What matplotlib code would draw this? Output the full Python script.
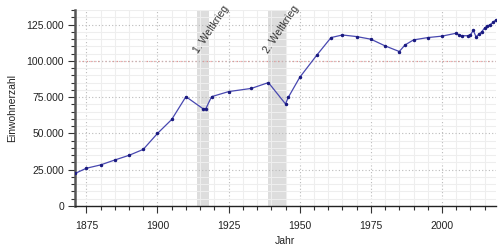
import numpy as np
import matplotlib
matplotlib.use('Agg')
import matplotlib.pyplot as plt
from matplotlib.ticker import MultipleLocator, FuncFormatter

# Data: population by year
years = [1871, 1875, 1880, 1885, 1890, 1895, 1900, 1905, 1910, 1916, 1917, 1919,
         1925, 1933, 1939, 1945, 1946, 1950, 1956, 1961, 1965, 1970, 1975, 1980,
         1985, 1987, 1990, 1995, 2000, 2005, 2006, 2007, 2009, 2010, 2011, 2012,
         2013, 2014, 2015, 2016, 2017, 2018, 2019]
population = [22400, 26000, 28300, 31700, 34900, 39000, 50000, 59600, 75300, 67000,
              67000, 75300, 78800, 81000, 85000, 70300, 74900, 88600, 103900, 116000,
              117800, 116700, 114900, 110300, 106400, 110900, 114400, 116000, 117000,
              119000, 117800, 117300, 117300, 117800, 121000, 116500, 118300, 120100,
              122600, 124000, 125000, 126500, 128300]

wars = [(1914, 1918, '1. Weltkrieg'), (1939, 1945, '2. Weltkrieg')]
war_label_pos = [(1914.2, 104500), (1938.9, 104500)]

plt.rcParams['font.family'] = ['Liberation Sans', 'DejaVu Sans']

fig = plt.figure(figsize=(5, 2.5), dpi=100)
ax = fig.add_axes([0.15, 0.176, 0.842, 0.784])

# war periods as grey bands
for (start, end, name), (lx, ly) in zip(wars, war_label_pos):
    ax.axvspan(start, end, color='#dddddd', lw=0, zorder=0)
    ax.text(lx, ly, name, rotation=56, rotation_mode='anchor', ha='left',
            va='baseline', fontsize=7.5, color='#333333', clip_on=False)

# grid
ax.xaxis.set_major_locator(MultipleLocator(25))
ax.xaxis.set_minor_locator(MultipleLocator(5))
ax.yaxis.set_major_locator(MultipleLocator(25000))
ax.yaxis.set_minor_locator(MultipleLocator(5000))
ax.grid(True, which='minor', color='#eeeeee', lw=0.8, ls='-', zorder=0.5)
ax.grid(True, which='major', color='#bbbbbb', lw=0.8, ls=(0, (1, 2)), zorder=0.6)
ax.axhline(100000, color='#e89090', lw=0.9, ls=(0, (1, 2)), zorder=0.7)

ax.plot(years, population, color='#4848b0', lw=0.9, marker='o', ms=1.5,
        mfc='#1a1a80', mec='#1a1a80', zorder=3)

ax.set_xlim(1871, 2019)
ax.set_ylim(0, 135000)
ax.yaxis.set_major_formatter(FuncFormatter(lambda v, p: f'{int(v):,}'.replace(',', '.')))

for s in ['top', 'right']:
    ax.spines[s].set_visible(False)
ax.spines['left'].set_color('#555555')
ax.spines['left'].set_linewidth(1.8)
ax.spines['bottom'].set_color('#222222')
ax.spines['bottom'].set_linewidth(1.0)

ax.tick_params(axis='both', which='major', labelsize=7.5, labelcolor='#222222',
               color='#333333', length=5, width=0.8)
ax.tick_params(axis='both', which='minor', color='#333333', length=3, width=0.8)
ax.tick_params(axis='x', which='major', pad=6)
ax.tick_params(axis='y', which='major', pad=3)

fig.text(285 / 500, 1 - 241 / 250, 'Jahr', fontsize=7.5, color='#222222',
         ha='center', va='center')
fig.text(12 / 500, 1 - 108 / 250, 'Einwohnerzahl', fontsize=7.5, color='#222222',
         ha='center', va='center', rotation=90)

fig.savefig('out.png', dpi=100)
